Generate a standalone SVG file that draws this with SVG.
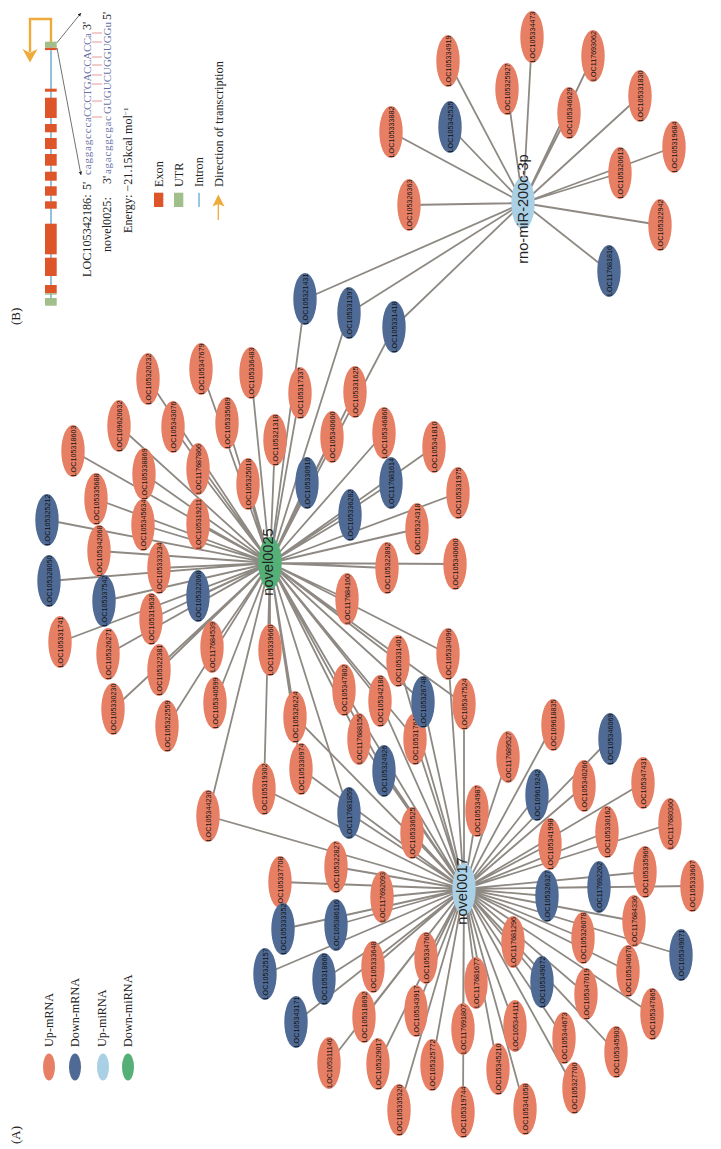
<svg xmlns="http://www.w3.org/2000/svg" width="721" height="1149" viewBox="0 0 721 1149">
<style>
text{font-family:"Liberation Sans",Arial,sans-serif;text-anchor:middle;fill:#111}
ellipse{rx:11.7px;ry:26px}
.u{fill:#e77f65}.d{fill:#4f6a94}.lb{fill:#a9d0e5}.g{fill:#55b078}
.n text{font-size:7.2px}
.hub text{font-size:14.6px;fill:#222}
#connectors path{stroke:#8e8983;stroke-width:1.8;fill:none}
.s{font-family:"Liberation Serif","Times New Roman",serif;font-size:12.2px;text-anchor:start;fill:#222}
.q{font-family:"Liberation Serif","Times New Roman",serif;font-size:11px;text-anchor:start;fill:#6a6fa8}
.l{rx:6px;ry:13.5px}
.ex{fill:#dd5528}.ut{fill:#a0bf8a}
.pair{stroke:#e59a96;stroke-width:1.2;fill:none}
.thin{stroke:#333;stroke-width:.7;fill:none}
.or{stroke:#efaa3c;fill:none}
</style>
<defs>
<marker id="ah" markerWidth="6" markerHeight="6" refX="5" refY="2.5" orient="auto"><path d="M0 0L5 2.5L0 5z" fill="#222"/></marker>
</defs>
<g id="connectors">
<path d="M523 203L532 37M523 203L593 56M523 203L448 61M523 203L507 89M523 203L569 113M523 203L640 96M523 203L450 127M523 203L391 132M523 203L674 147M523 203L620 173M523 203L409 205M523 203L660 225M523 203L609 271M523 203L305 299M523 203L349 313M523 203L394 327"/>
<path d="M270 563L305 299M270 563L349 313M270 563L394 327M270 563L148 379M270 563L201 369M270 563L251 373M270 563L119 426M270 563L173 427M270 563L227 423M270 563L73 451M270 563L198 469M270 563L144 474M270 563L248 484M270 563L96 499M270 563L47 520M270 563L143 525M270 563L198 524M270 563L99 551M270 563L159 568M270 563L49 581M270 563L104 601M270 563L198 596M270 563L151 619M270 563L60 642M270 563L108 654M270 563L212 647M270 563L159 670M270 563L215 703M270 563L113 709M270 563L167 726"/>
<path d="M270 563L300 393M270 563L355 392M270 563L275 440M270 563L332 437M270 563L384 433M270 563L434 447M270 563L307 483M270 563L391 483M270 563L350 515M270 563L458 493M270 563L417 529M270 563L387 568M270 563L455 564M270 563L347 599M270 563L270 650M270 563L448 654M270 563L398 661M270 563L344 690M270 563L380 701M270 563L423 702M270 563L464 704M270 563L295 717M270 563L359 739M270 563L415 739M270 563L301 769M270 563L264 789M270 563L384 771M270 563L349 813M270 563L208 816"/>
<path d="M464 889L448 654M464 889L398 661M464 889L344 690M464 889L380 701M464 889L423 702M464 889L464 704M464 889L295 717M464 889L359 739M464 889L415 739M464 889L301 769M464 889L264 789M464 889L384 771M464 889L349 813M464 889L208 816M464 889L412 833M464 889L336 867M464 889L280 882M464 889L382 897M464 889L283 929M464 889L336 925"/>
<path d="M464 889L553 725M464 889L610 739M464 889L508 757M464 889L537 795M464 889L584 786M464 889L643 783M464 889L477 811M464 889L607 832M464 889L670 824M464 889L550 844M464 889L645 872M464 889L599 887M464 889L692 886M464 889L547 896M464 889L634 921M464 889L513 942M464 889L583 938M464 889L681 955M464 889L628 971M464 889L586 994M464 889L542 982M464 889L476 983M464 889L652 1014M464 889L515 1026M464 889L564 1038M464 889L616 1052M464 889L463 1029M464 889L498 1069M464 889L574 1088M464 889L525 1109M464 889L463 1112"/>
<path d="M464 889L265 974M464 889L324 979M464 889L373 967M464 889L426 958M464 889L416 1011M464 889L296 1022M464 889L364 1017M464 889L329 1063M464 889L378 1064M464 889L432 1065M464 889L399 1110"/>
</g>
<g id="nodes">
<g class="n" id="LOC105334473"><ellipse class="u" cx="532" cy="37"/><text transform="translate(534.6 37) rotate(-90)">LOC105334473</text></g>
<g class="n" id="LOC117693062"><ellipse class="u" cx="593" cy="56"/><text transform="translate(595.6 56) rotate(-90)">LOC117693062</text></g>
<g class="n" id="LOC105334919"><ellipse class="u" cx="448" cy="61"/><text transform="translate(450.6 61) rotate(-90)">LOC105334919</text></g>
<g class="n" id="LOC105325927"><ellipse class="u" cx="507" cy="89"/><text transform="translate(509.6 89) rotate(-90)">LOC105325927</text></g>
<g class="n" id="LOC105346629"><ellipse class="u" cx="569" cy="113"/><text transform="translate(571.6 113) rotate(-90)">LOC105346629</text></g>
<g class="n" id="LOC105331830"><ellipse class="u" cx="640" cy="96"/><text transform="translate(642.6 96) rotate(-90)">LOC105331830</text></g>
<g class="n" id="LOC105333882"><ellipse class="u" cx="391" cy="132"/><text transform="translate(393.6 132) rotate(-90)">LOC105333882</text></g>
<g class="n" id="LOC105319684"><ellipse class="u" cx="674" cy="147"/><text transform="translate(676.6 147) rotate(-90)">LOC105319684</text></g>
<g class="n" id="LOC105320613"><ellipse class="u" cx="620" cy="173"/><text transform="translate(622.6 173) rotate(-90)">LOC105320613</text></g>
<g class="n" id="LOC105326363"><ellipse class="u" cx="409" cy="205"/><text transform="translate(411.6 205) rotate(-90)">LOC105326363</text></g>
<g class="n" id="LOC105322942"><ellipse class="u" cx="660" cy="225"/><text transform="translate(662.6 225) rotate(-90)">LOC105322942</text></g>
<g class="n" id="LOC105320232"><ellipse class="u" cx="148" cy="379"/><text transform="translate(150.6 379) rotate(-90)">LOC105320232</text></g>
<g class="n" id="LOC105347679"><ellipse class="u" cx="201" cy="369"/><text transform="translate(203.6 369) rotate(-90)">LOC105347679</text></g>
<g class="n" id="LOC105336483"><ellipse class="u" cx="251" cy="373"/><text transform="translate(253.6 373) rotate(-90)">LOC105336483</text></g>
<g class="n" id="LOC109620632"><ellipse class="u" cx="119" cy="426"/><text transform="translate(121.6 426) rotate(-90)">LOC109620632</text></g>
<g class="n" id="LOC105343076"><ellipse class="u" cx="173" cy="427"/><text transform="translate(175.6 427) rotate(-90)">LOC105343076</text></g>
<g class="n" id="LOC105335689"><ellipse class="u" cx="227" cy="423"/><text transform="translate(229.6 423) rotate(-90)">LOC105335689</text></g>
<g class="n" id="LOC105318603"><ellipse class="u" cx="73" cy="451"/><text transform="translate(75.6 451) rotate(-90)">LOC105318603</text></g>
<g class="n" id="LOC117687866"><ellipse class="u" cx="198" cy="469"/><text transform="translate(200.6 469) rotate(-90)">LOC117687866</text></g>
<g class="n" id="LOC105338869"><ellipse class="u" cx="144" cy="474"/><text transform="translate(146.6 474) rotate(-90)">LOC105338869</text></g>
<g class="n" id="LOC105325018"><ellipse class="u" cx="248" cy="484"/><text transform="translate(250.6 484) rotate(-90)">LOC105325018</text></g>
<g class="n" id="LOC105335688"><ellipse class="u" cx="96" cy="499"/><text transform="translate(98.6 499) rotate(-90)">LOC105335688</text></g>
<g class="n" id="LOC105345634"><ellipse class="u" cx="143" cy="525"/><text transform="translate(145.6 525) rotate(-90)">LOC105345634</text></g>
<g class="n" id="LOC105319211"><ellipse class="u" cx="198" cy="524"/><text transform="translate(200.6 524) rotate(-90)">LOC105319211</text></g>
<g class="n" id="LOC105342068"><ellipse class="u" cx="99" cy="551"/><text transform="translate(101.6 551) rotate(-90)">LOC105342068</text></g>
<g class="n" id="LOC105333234"><ellipse class="u" cx="159" cy="568"/><text transform="translate(161.6 568) rotate(-90)">LOC105333234</text></g>
<g class="n" id="LOC105319636"><ellipse class="u" cx="151" cy="619"/><text transform="translate(153.6 619) rotate(-90)">LOC105319636</text></g>
<g class="n" id="LOC105331741"><ellipse class="u" cx="60" cy="642"/><text transform="translate(62.6 642) rotate(-90)">LOC105331741</text></g>
<g class="n" id="LOC105326271"><ellipse class="u" cx="108" cy="654"/><text transform="translate(110.6 654) rotate(-90)">LOC105326271</text></g>
<g class="n" id="LOC117684539"><ellipse class="u" cx="212" cy="647"/><text transform="translate(214.6 647) rotate(-90)">LOC117684539</text></g>
<g class="n" id="LOC105322381"><ellipse class="u" cx="159" cy="670"/><text transform="translate(161.6 670) rotate(-90)">LOC105322381</text></g>
<g class="n" id="LOC105340599"><ellipse class="u" cx="215" cy="703"/><text transform="translate(217.6 703) rotate(-90)">LOC105340599</text></g>
<g class="n" id="LOC105330230"><ellipse class="u" cx="113" cy="709"/><text transform="translate(115.6 709) rotate(-90)">LOC105330230</text></g>
<g class="n" id="LOC105322559"><ellipse class="u" cx="167" cy="726"/><text transform="translate(169.6 726) rotate(-90)">LOC105322559</text></g>
<g class="n" id="LOC105317337"><ellipse class="u" cx="300" cy="393"/><text transform="translate(302.6 393) rotate(-90)">LOC105317337</text></g>
<g class="n" id="LOC105331625"><ellipse class="u" cx="355" cy="392"/><text transform="translate(357.6 392) rotate(-90)">LOC105331625</text></g>
<g class="n" id="LOC105321318"><ellipse class="u" cx="275" cy="440"/><text transform="translate(277.6 440) rotate(-90)">LOC105321318</text></g>
<g class="n" id="LOC105340600"><ellipse class="u" cx="332" cy="437"/><text transform="translate(334.6 437) rotate(-90)">LOC105340600</text></g>
<g class="n" id="LOC105346860"><ellipse class="u" cx="384" cy="433"/><text transform="translate(386.6 433) rotate(-90)">LOC105346860</text></g>
<g class="n" id="LOC105341810"><ellipse class="u" cx="434" cy="447"/><text transform="translate(436.6 447) rotate(-90)">LOC105341810</text></g>
<g class="n" id="LOC105331975"><ellipse class="u" cx="458" cy="493"/><text transform="translate(460.6 493) rotate(-90)">LOC105331975</text></g>
<g class="n" id="LOC105324318"><ellipse class="u" cx="417" cy="529"/><text transform="translate(419.6 529) rotate(-90)">LOC105324318</text></g>
<g class="n" id="LOC105322892"><ellipse class="u" cx="387" cy="568"/><text transform="translate(389.6 568) rotate(-90)">LOC105322892</text></g>
<g class="n" id="LOC105340600b"><ellipse class="u" cx="455" cy="564"/><text transform="translate(457.6 564) rotate(-90)">LOC105340600</text></g>
<g class="n" id="LOC117684160"><ellipse class="u" cx="347" cy="599"/><text transform="translate(349.6 599) rotate(-90)">LOC117684160</text></g>
<g class="n" id="LOC105339660"><ellipse class="u" cx="270" cy="650"/><text transform="translate(272.6 650) rotate(-90)">LOC105339660</text></g>
<g class="n" id="LOC105334096"><ellipse class="u" cx="448" cy="654"/><text transform="translate(450.6 654) rotate(-90)">LOC105334096</text></g>
<g class="n" id="LOC105331401"><ellipse class="u" cx="398" cy="661"/><text transform="translate(400.6 661) rotate(-90)">LOC105331401</text></g>
<g class="n" id="LOC105347802"><ellipse class="u" cx="344" cy="690"/><text transform="translate(346.6 690) rotate(-90)">LOC105347802</text></g>
<g class="n" id="LOC105342186"><ellipse class="u" cx="380" cy="701"/><text transform="translate(382.6 701) rotate(-90)">LOC105342186</text></g>
<g class="n" id="LOC105347524"><ellipse class="u" cx="464" cy="704"/><text transform="translate(466.6 704) rotate(-90)">LOC105347524</text></g>
<g class="n" id="LOC105326224"><ellipse class="u" cx="295" cy="717"/><text transform="translate(297.6 717) rotate(-90)">LOC105326224</text></g>
<g class="n" id="LOC117688156"><ellipse class="u" cx="359" cy="739"/><text transform="translate(361.6 739) rotate(-90)">LOC117688156</text></g>
<g class="n" id="LOC105317613"><ellipse class="u" cx="415" cy="739"/><text transform="translate(417.6 739) rotate(-90)">LOC105317613</text></g>
<g class="n" id="LOC105330974"><ellipse class="u" cx="301" cy="769"/><text transform="translate(303.6 769) rotate(-90)">LOC105330974</text></g>
<g class="n" id="LOC105319302"><ellipse class="u" cx="264" cy="789"/><text transform="translate(266.6 789) rotate(-90)">LOC105319302</text></g>
<g class="n" id="LOC105344230"><ellipse class="u" cx="208" cy="816"/><text transform="translate(210.6 816) rotate(-90)">LOC105344230</text></g>
<g class="n" id="LOC105336525"><ellipse class="u" cx="412" cy="833"/><text transform="translate(414.6 833) rotate(-90)">LOC105336525</text></g>
<g class="n" id="LOC105322827"><ellipse class="u" cx="336" cy="867"/><text transform="translate(338.6 867) rotate(-90)">LOC105322827</text></g>
<g class="n" id="LOC105337708"><ellipse class="u" cx="280" cy="882"/><text transform="translate(282.6 882) rotate(-90)">LOC105337708</text></g>
<g class="n" id="LOC117692093"><ellipse class="u" cx="382" cy="897"/><text transform="translate(384.6 897) rotate(-90)">LOC117692093</text></g>
<g class="n" id="LOC109618835"><ellipse class="u" cx="553" cy="725"/><text transform="translate(555.6 725) rotate(-90)">LOC109618835</text></g>
<g class="n" id="LOC117689527"><ellipse class="u" cx="508" cy="757"/><text transform="translate(510.6 757) rotate(-90)">LOC117689527</text></g>
<g class="n" id="LOC105340266"><ellipse class="u" cx="584" cy="786"/><text transform="translate(586.6 786) rotate(-90)">LOC105340266</text></g>
<g class="n" id="LOC105347431"><ellipse class="u" cx="643" cy="783"/><text transform="translate(645.6 783) rotate(-90)">LOC105347431</text></g>
<g class="n" id="LOC105334987"><ellipse class="u" cx="477" cy="811"/><text transform="translate(479.6 811) rotate(-90)">LOC105334987</text></g>
<g class="n" id="LOC105330162"><ellipse class="u" cx="607" cy="832"/><text transform="translate(609.6 832) rotate(-90)">LOC105330162</text></g>
<g class="n" id="LOC117680360"><ellipse class="u" cx="670" cy="824"/><text transform="translate(672.6 824) rotate(-90)">LOC117680360</text></g>
<g class="n" id="LOC105341998"><ellipse class="u" cx="550" cy="844"/><text transform="translate(552.6 844) rotate(-90)">LOC105341998</text></g>
<g class="n" id="LOC105335969"><ellipse class="u" cx="645" cy="872"/><text transform="translate(647.6 872) rotate(-90)">LOC105335969</text></g>
<g class="n" id="LOC105333607"><ellipse class="u" cx="692" cy="886"/><text transform="translate(694.6 886) rotate(-90)">LOC105333607</text></g>
<g class="n" id="LOC117684336"><ellipse class="u" cx="634" cy="921"/><text transform="translate(636.6 921) rotate(-90)">LOC117684336</text></g>
<g class="n" id="LOC117681296"><ellipse class="u" cx="513" cy="942"/><text transform="translate(515.6 942) rotate(-90)">LOC117681296</text></g>
<g class="n" id="LOC105326078"><ellipse class="u" cx="583" cy="938"/><text transform="translate(585.6 938) rotate(-90)">LOC105326078</text></g>
<g class="n" id="LOC105340670"><ellipse class="u" cx="628" cy="971"/><text transform="translate(630.6 971) rotate(-90)">LOC105340670</text></g>
<g class="n" id="LOC105347019"><ellipse class="u" cx="586" cy="994"/><text transform="translate(588.6 994) rotate(-90)">LOC105347019</text></g>
<g class="n" id="LOC117681677"><ellipse class="u" cx="476" cy="983"/><text transform="translate(478.6 983) rotate(-90)">LOC117681677</text></g>
<g class="n" id="LOC105347865"><ellipse class="u" cx="652" cy="1014"/><text transform="translate(654.6 1014) rotate(-90)">LOC105347865</text></g>
<g class="n" id="LOC105344111"><ellipse class="u" cx="515" cy="1026"/><text transform="translate(517.6 1026) rotate(-90)">LOC105344111</text></g>
<g class="n" id="LOC105344673"><ellipse class="u" cx="564" cy="1038"/><text transform="translate(566.6 1038) rotate(-90)">LOC105344673</text></g>
<g class="n" id="LOC105345903"><ellipse class="u" cx="616" cy="1052"/><text transform="translate(618.6 1052) rotate(-90)">LOC105345903</text></g>
<g class="n" id="LOC117691807"><ellipse class="u" cx="463" cy="1029"/><text transform="translate(465.6 1029) rotate(-90)">LOC117691807</text></g>
<g class="n" id="LOC105345210"><ellipse class="u" cx="498" cy="1069"/><text transform="translate(500.6 1069) rotate(-90)">LOC105345210</text></g>
<g class="n" id="LOC105327700"><ellipse class="u" cx="574" cy="1088"/><text transform="translate(576.6 1088) rotate(-90)">LOC105327700</text></g>
<g class="n" id="LOC105341058"><ellipse class="u" cx="525" cy="1109"/><text transform="translate(527.6 1109) rotate(-90)">LOC105341058</text></g>
<g class="n" id="LOC105319744"><ellipse class="u" cx="463" cy="1112"/><text transform="translate(465.6 1112) rotate(-90)">LOC105319744</text></g>
<g class="n" id="LOC105333648"><ellipse class="u" cx="373" cy="967"/><text transform="translate(375.6 967) rotate(-90)">LOC105333648</text></g>
<g class="n" id="LOC105334760"><ellipse class="u" cx="426" cy="958"/><text transform="translate(428.6 958) rotate(-90)">LOC105334760</text></g>
<g class="n" id="LOC105343917"><ellipse class="u" cx="416" cy="1011"/><text transform="translate(418.6 1011) rotate(-90)">LOC105343917</text></g>
<g class="n" id="LOC105318692"><ellipse class="u" cx="364" cy="1017"/><text transform="translate(366.6 1017) rotate(-90)">LOC105318692</text></g>
<g class="n" id="LOC105311146"><ellipse class="u" cx="329" cy="1063"/><text transform="translate(331.6 1063) rotate(-90)">LOC105311146</text></g>
<g class="n" id="LOC105329017"><ellipse class="u" cx="378" cy="1064"/><text transform="translate(380.6 1064) rotate(-90)">LOC105329017</text></g>
<g class="n" id="LOC105325772"><ellipse class="u" cx="432" cy="1065"/><text transform="translate(434.6 1065) rotate(-90)">LOC105325772</text></g>
<g class="n" id="LOC105335320"><ellipse class="u" cx="399" cy="1110"/><text transform="translate(401.6 1110) rotate(-90)">LOC105335320</text></g>
<g class="n" id="LOC105342535"><ellipse class="d" cx="450" cy="127"/><text transform="translate(452.6 127) rotate(-90)">LOC105342535</text></g>
<g class="n" id="LOC117681816"><ellipse class="d" cx="609" cy="271"/><text transform="translate(611.6 271) rotate(-90)">LOC117681816</text></g>
<g class="n" id="LOC105321431"><ellipse class="d" cx="305" cy="299"/><text transform="translate(307.6 299) rotate(-90)">LOC105321431</text></g>
<g class="n" id="LOC105331397"><ellipse class="d" cx="349" cy="313"/><text transform="translate(351.6 313) rotate(-90)">LOC105331397</text></g>
<g class="n" id="LOC105331418"><ellipse class="d" cx="394" cy="327"/><text transform="translate(396.6 327) rotate(-90)">LOC105331418</text></g>
<g class="n" id="LOC105325212"><ellipse class="d" cx="47" cy="520"/><text transform="translate(49.6 520) rotate(-90)">LOC105325212</text></g>
<g class="n" id="LOC105328050"><ellipse class="d" cx="49" cy="581"/><text transform="translate(51.6 581) rotate(-90)">LOC105328050</text></g>
<g class="n" id="LOC105337542"><ellipse class="d" cx="104" cy="601"/><text transform="translate(106.6 601) rotate(-90)">LOC105337542</text></g>
<g class="n" id="LOC105322068"><ellipse class="d" cx="198" cy="596"/><text transform="translate(200.6 596) rotate(-90)">LOC105322068</text></g>
<g class="n" id="LOC105330910"><ellipse class="d" cx="307" cy="483"/><text transform="translate(309.6 483) rotate(-90)">LOC105330910</text></g>
<g class="n" id="LOC117681614"><ellipse class="d" cx="391" cy="483"/><text transform="translate(393.6 483) rotate(-90)">LOC117681614</text></g>
<g class="n" id="LOC105336282"><ellipse class="d" cx="350" cy="515"/><text transform="translate(352.6 515) rotate(-90)">LOC105336282</text></g>
<g class="n" id="LOC105326748"><ellipse class="d" cx="423" cy="702"/><text transform="translate(425.6 702) rotate(-90)">LOC105326748</text></g>
<g class="n" id="LOC105324926"><ellipse class="d" cx="384" cy="771"/><text transform="translate(386.6 771) rotate(-90)">LOC105324926</text></g>
<g class="n" id="LOC117681859"><ellipse class="d" cx="349" cy="813"/><text transform="translate(351.6 813) rotate(-90)">LOC117681859</text></g>
<g class="n" id="LOC105333352"><ellipse class="d" cx="283" cy="929"/><text transform="translate(285.6 929) rotate(-90)">LOC105333352</text></g>
<g class="n" id="LOC105386116"><ellipse class="d" cx="336" cy="925"/><text transform="translate(338.6 925) rotate(-90)">LOC105386116</text></g>
<g class="n" id="LOC105346069"><ellipse class="d" cx="610" cy="739"/><text transform="translate(612.6 739) rotate(-90)">LOC105346069</text></g>
<g class="n" id="LOC109619242"><ellipse class="d" cx="537" cy="795"/><text transform="translate(539.6 795) rotate(-90)">LOC109619242</text></g>
<g class="n" id="LOC117692262"><ellipse class="d" cx="599" cy="887"/><text transform="translate(601.6 887) rotate(-90)">LOC117692262</text></g>
<g class="n" id="LOC105326327"><ellipse class="d" cx="547" cy="896"/><text transform="translate(549.6 896) rotate(-90)">LOC105326327</text></g>
<g class="n" id="LOC105349071"><ellipse class="d" cx="681" cy="955"/><text transform="translate(683.6 955) rotate(-90)">LOC105349071</text></g>
<g class="n" id="LOC105349072"><ellipse class="d" cx="542" cy="982"/><text transform="translate(544.6 982) rotate(-90)">LOC105349072</text></g>
<g class="n" id="LOC105325157"><ellipse class="d" cx="265" cy="974"/><text transform="translate(267.6 974) rotate(-90)">LOC105325157</text></g>
<g class="n" id="LOC105318660"><ellipse class="d" cx="324" cy="979"/><text transform="translate(326.6 979) rotate(-90)">LOC105318660</text></g>
<g class="n" id="LOC105343171"><ellipse class="d" cx="296" cy="1022"/><text transform="translate(298.6 1022) rotate(-90)">LOC105343171</text></g>
<g class="hub" id="rno-miR-200c-3p"><ellipse class="lb" cx="523" cy="203"/><text transform="translate(527.5 209) rotate(-90)">rno-miR-200c-3p</text></g>
<g class="hub" id="novel0025"><ellipse class="g" cx="270" cy="563"/><text transform="translate(273 562) rotate(-90)">novel0025</text></g>
<g class="hub" id="novel0017"><ellipse class="lb" cx="464" cy="889"/><text transform="translate(467 891) rotate(-90)">novel0017</text></g>
</g>
<g id="legend-a">
<ellipse class="u l" cx="49" cy="1067"/><ellipse class="d l" cx="75" cy="1067"/><ellipse class="lb l" cx="103" cy="1067"/><ellipse class="g l" cx="128" cy="1067"/>
<text class="s" transform="translate(52.7 1047) rotate(-90)">Up-mRNA</text>
<text class="s" transform="translate(79 1047) rotate(-90)">Down-mRNA</text>
<text class="s" transform="translate(106 1047) rotate(-90)">Up-miRNA</text>
<text class="s" transform="translate(131.7 1047) rotate(-90)">Down-miRNA</text>
<text class="s" style="font-size:13px" transform="translate(20 1144) rotate(-90)">(A)</text>
</g>
<g id="panel-b">
<text class="s" style="font-size:13px" transform="translate(20 325) rotate(-90)">(B)</text>
<path d="M51 42V19H30V52" class="or" stroke-width="2.4"/>
<path d="M22.5 49L30 52.7L37.5 49L30 62.5z" fill="#efaa3c"/>
<path d="M51 42V305" stroke="#5a9fcb" stroke-width="1.3" fill="none"/>
<g class="ex">
<rect x="45" y="47.5" width="11.7" height="2.6"/><rect x="45" y="88.7" width="11.7" height="3"/><rect x="45" y="97.7" width="11.7" height="20.3"/><rect x="45" y="124" width="11.7" height="8.3"/><rect x="45" y="138" width="11.7" height="11"/><rect x="45" y="154" width="11.7" height="11.7"/><rect x="45" y="171.7" width="11.7" height="9"/><rect x="45" y="186.3" width="11.7" height="9.4"/><rect x="45" y="201.3" width="11.7" height="7.4"/><rect x="45" y="223.7" width="11.7" height="30.6"/><rect x="45" y="257.7" width="11.7" height="18.3"/><rect x="45" y="285" width="11.7" height="8.3"/>
</g>
<g class="ut"><rect x="45" y="41.7" width="11.7" height="5.8"/><rect x="45" y="293.3" width="11.7" height="1.4"/><rect x="45" y="298" width="11.7" height="7.7"/></g>
<path class="thin" marker-end="url(#ah)" d="M57 42.7L81 13"/>
<path class="thin" marker-end="url(#ah)" d="M57 48L81 175"/>
<path class="pair" d="M92 33H102M92 42H102M92 57H102M92 65H102M92 75H102M92 84H102M92 101H102M92 117H102"/>
<text class="s" transform="translate(90.5 277) rotate(-90)">LOC105342186:</text>
<text class="s" transform="translate(90.5 190) rotate(-90)">5'</text>
<text class="q" textLength="58" transform="translate(90.5 175) rotate(-90)">caggagccca</text>
<text class="q" textLength="84" transform="translate(90.5 117) rotate(-90)">CCCTGACCACCa</text>
<text class="s" transform="translate(90.5 30) rotate(-90)">3'</text>
<text class="s" transform="translate(110.5 252) rotate(-90)">novel0025:</text>
<text class="s" transform="translate(110.5 184) rotate(-90)">3'</text>
<text class="q" textLength="58" transform="translate(110.5 174) rotate(-90)">agacggcgac</text>
<text class="q" textLength="92" transform="translate(110.5 114) rotate(-90)">GUGUCUGGUGGu</text>
<text class="s" transform="translate(110.5 20) rotate(-90)">5'</text>
<text class="s" transform="translate(131.5 233) rotate(-90)">Energy: −21.15kcal mol<tspan font-size="7" dy="-4">−1</tspan></text>
<rect class="ex" x="154" y="192.7" width="9.3" height="14.3"/>
<rect class="ut" x="174" y="192.7" width="9.3" height="14.3"/>
<path d="M199 192.7V207" stroke="#7ab0d4" stroke-width="1.5" fill="none"/>
<path d="M218.3 220V203" class="or" stroke-width="1.3"/>
<path d="M212.5 206.5L218.3 194.5L224.5 206.5L218.3 204z" fill="#efaa3c"/>
<text class="s" transform="translate(163 187) rotate(-90)">Exon</text>
<text class="s" transform="translate(183 187) rotate(-90)">UTR</text>
<text class="s" transform="translate(203 187) rotate(-90)">Intron</text>
<text class="s" style="font-size:12.4px" transform="translate(222.7 187) rotate(-90)">Direction of transcription</text>
</g>
</svg>
